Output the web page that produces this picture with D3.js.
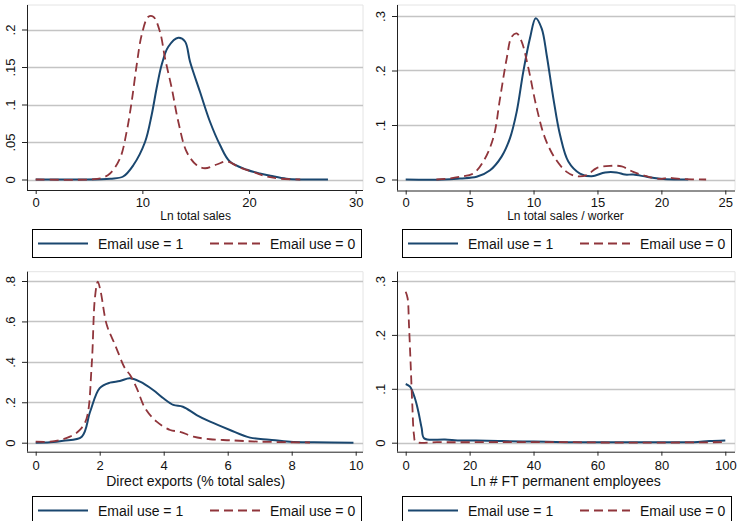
<!DOCTYPE html>
<html>
<head>
<meta charset="utf-8">
<script src="https://cdn.jsdelivr.net/npm/d3@7"></script>
<style>
  body { margin: 0; background: #fff; }
  svg { display: block; font-family: "Liberation Sans", Arial, sans-serif; }
</style>
</head>
<body>
<div id="chart"></div>
<script>
var W = 737, H = 521;

var seriesNames = ["Email use = 1", "Email use = 0"];

// Ln total sales
var salesEmail1 = [[0,0],[4,0],[7,0.001],[8.2,0.004],[9.15,0.019],[10.25,0.05],[10.87,0.086],[11.34,0.122],
  [11.81,0.153],[12.43,0.177],[13.37,0.189],[14.0,0.184],[14.47,0.157],[15.4,0.117],[16.34,0.077],
  [17.28,0.046],[18.2,0.024],[19.8,0.013],[21.0,0.008],[22.0,0.005],[23.5,0.001],[25,0],[27.4,0]];
var salesEmail0 = [[0,0],[5,0],[6.2,0.002],[6.97,0.008],[7.9,0.028],[8.53,0.064],[9.0,0.104],[9.47,0.153],
  [9.94,0.193],[10.56,0.217],[11.03,0.217],[11.65,0.197],[12.12,0.162],[12.75,0.122],[13.37,0.077],
  [14.15,0.037],[15.1,0.019],[15.87,0.015],[16.97,0.02],[17.9,0.024],[19.15,0.016],[20.4,0.01],
  [21.66,0.004],[23,0.001],[24.8,0]];

// Ln total sales / worker
var perWorkerEmail1 = [[0,0],[3,0],[4.25,0.002],[5.55,0.005],[6.6,0.017],[7.5,0.042],[8.16,0.076],[8.68,0.124],
  [9.2,0.198],[9.72,0.259],[10.17,0.296],[10.64,0.277],[11.03,0.228],[11.55,0.149],[12.07,0.082],
  [12.72,0.033],[13.63,0.011],[14.55,0.006],[15.6,0.013],[16.5,0.013],[17.15,0.009],[17.8,0.009],
  [18.85,0.005],[19.76,0.002],[21,0],[22.1,0]];
var perWorkerEmail0 = [[2.4,0],[3.5,0.002],[4.25,0.005],[5.29,0.011],[6.07,0.033],[6.85,0.076],[7.38,0.149],
  [7.9,0.222],[8.29,0.262],[8.68,0.268],[9.07,0.253],[9.6,0.204],[10.25,0.131],[10.9,0.076],
  [11.68,0.039],[12.59,0.014],[13.37,0.006],[14.16,0.008],[14.94,0.021],[15.98,0.025],[16.9,0.024],
  [17.8,0.014],[18.85,0.006],[19.9,0.001],[20.5,0.003],[21.5,0.001],[23.5,0]];

// Direct exports (% total sales)
var exportsEmail1 = [[0,0],[0.45,0.002],[0.86,0.01],[1.44,0.03],[1.7,0.153],[2.0,0.27],[2.32,0.297],
  [2.63,0.305],[2.94,0.319],[3.26,0.302],[3.67,0.261],[3.99,0.22],[4.3,0.187],[4.6,0.178],
  [5.03,0.137],[5.45,0.104],[6.07,0.063],[6.7,0.025],[7.3,0.015],[7.95,0.005],[8.7,0.002],[9.93,0]];
var exportsEmail0 = [[0,0.005],[0.45,0.005],[0.76,0.013],[1.07,0.03],[1.38,0.063],[1.59,0.12],[1.75,0.385],
  [1.85,0.715],[1.94,0.797],[2.03,0.748],[2.22,0.583],[2.48,0.484],[2.79,0.368],[2.95,0.335],
  [3.16,0.269],[3.42,0.17],[3.78,0.104],[4.2,0.063],[4.51,0.054],[4.93,0.03],[5.45,0.017],
  [6.07,0.012],[7.0,0.005],[8.57,0.001]];

// Ln # FT permanent employees
var employeesEmail1 = [[0,0.109],[1.35,0.104],[2.9,0.082],[3.95,0.058],[5.0,0.027],[5.8,0.008],[12.3,0.006],
  [17.5,0.004],[22,0.004],[30,0.003],[40,0.002],[50,0.001],[60,0.001],[75,0.001],[90,0.001],
  [95,0.003],[100,0.004]];
var employeesEmail0 = [[0,0.28],[0.6,0.268],[1.03,0.218],[1.56,0.144],[2.07,0.07],[2.6,0.014],[3.1,0.002],
  [10,0.001],[30,0.001],[50,0.001],[70,0],[100,0.001]];

var panels = [
  { title: "Ln total sales", titleSize: 12, s1: salesEmail1, s0: salesEmail0,
    xDomain: [0,30], xTicks: [0,10,20,30], yDomain: [0,0.2], yTicks: [0,0.05,0.1,0.15,0.2],
    axisX: 27, axisY: 190, top: 5, right: 363, xr: [35.7,355.7], yr: [179.5,29.5],
    tickY: 207, titleY: 220, legY: 229 },
  { title: "Ln total sales / worker", titleSize: 12, s1: perWorkerEmail1, s0: perWorkerEmail0,
    xDomain: [0,25], xTicks: [0,5,10,15,20,25], yDomain: [0,0.3], yTicks: [0,0.1,0.2,0.3],
    axisX: 397, axisY: 190.5, top: 5, right: 735, xr: [405.7,725.3], yr: [179.5,16],
    tickY: 207, titleY: 220, legY: 229 },
  { title: "Direct exports (% total sales)", titleSize: 14, s1: exportsEmail1, s0: exportsEmail0,
    xDomain: [0,10], xTicks: [0,2,4,6,8,10], yDomain: [0,0.8], yTicks: [0,0.2,0.4,0.6,0.8],
    axisX: 27, axisY: 451.7, top: 271.7, right: 363, xr: [35.7,355.7], yr: [442.7,281],
    tickY: 469.5, titleY: 486, legY: 496 },
  { title: "Ln # FT permanent employees", titleSize: 14, s1: employeesEmail1, s0: employeesEmail0,
    xDomain: [0,100], xTicks: [0,20,40,60,80,100], yDomain: [0,0.3], yTicks: [0,0.1,0.2,0.3],
    axisX: 397, axisY: 451.7, top: 271.7, right: 735, xr: [405.7,725.3], yr: [442.7,281],
    tickY: 469.5, titleY: 486, legY: 496 }
];

var blue = "#1a476f", red = "#90353b";
var fmt = function(v) { return v === 0 ? "0" : d3.format("")(v).replace(/^0\./, "."); };

var svg = d3.select("#chart").append("svg")
  .attr("width", W)
  .attr("height", H);

svg.append("rect").attr("width", W).attr("height", H).attr("fill", "#fff");

panels.forEach(function(p) {
  var x = d3.scaleLinear().domain(p.xDomain).range(p.xr);
  var y = d3.scaleLinear().domain(p.yDomain).range(p.yr);
  var g = svg.append("g");

  // plot region border (light)
  g.append("path")
    .attr("d", "M" + p.axisX + "," + p.top + "H" + p.right + "V" + p.axisY)
    .attr("fill", "none")
    .attr("stroke", "#e4e4e4")
    .attr("stroke-width", 1);

  // gridlines
  g.selectAll(".grid")
    .data(p.yTicks)
    .enter()
    .append("line")
    .attr("x1", p.axisX)
    .attr("x2", p.right)
    .attr("y1", function(d) { return Math.round(y(d)) + 0.5; })
    .attr("y2", function(d) { return Math.round(y(d)) + 0.5; })
    .attr("stroke", "#c4c4c4")
    .attr("stroke-width", 1.6);

  // y axis
  var yAxis = d3.axisLeft(y).tickValues(p.yTicks).tickSize(5).tickFormat(fmt);
  var ya = g.append("g")
    .attr("transform", "translate(" + p.axisX + ",0)")
    .call(yAxis);
  ya.select(".domain").attr("d", "M0.5," + p.top + "V" + p.axisY).attr("stroke", "#222");
  ya.selectAll(".tick line").attr("stroke", "#222").attr("x1", 0.5).attr("x2", -5);
  ya.selectAll(".tick text")
    .attr("x", 0).attr("dy", 0)
    .attr("transform", "translate(-12,0) rotate(-90)")
    .attr("text-anchor", "middle")
    .attr("font-size", 13)
    .attr("font-family", "Liberation Sans, Arial, sans-serif")
    .attr("fill", "#111");

  // x axis
  var xAxis = d3.axisBottom(x).tickValues(p.xTicks).tickSize(4).tickFormat(d3.format("d"));
  var xa = g.append("g")
    .attr("transform", "translate(0," + p.axisY + ")")
    .call(xAxis);
  xa.select(".domain").attr("d", "M" + p.axisX + ",0.5H" + p.right).attr("stroke", "#222");
  xa.selectAll(".tick line").attr("stroke", "#222");
  xa.selectAll(".tick text")
    .attr("y", null).attr("dy", null)
    .attr("transform", "translate(0," + (p.tickY - p.axisY) + ")")
    .attr("font-size", 13)
    .attr("font-family", "Liberation Sans, Arial, sans-serif")
    .attr("fill", "#111");

  // axis title
  g.append("text")
    .attr("x", (p.xr[0] + p.xr[1]) / 2)
    .attr("y", p.titleY)
    .attr("text-anchor", "middle")
    .attr("font-size", p.titleSize)
    .attr("fill", "#111")
    .text(p.title);

  // curves
  var line = d3.line()
    .x(function(d) { return x(d[0]); })
    .y(function(d) { return y(d[1]); })
    .curve(d3.curveCatmullRom.alpha(0.5));

  g.append("path")
    .datum(p.s1)
    .attr("d", line)
    .attr("fill", "none")
    .attr("stroke", blue)
    .attr("stroke-width", 2);

  g.append("path")
    .datum(p.s0)
    .attr("d", line)
    .attr("fill", "none")
    .attr("stroke", red)
    .attr("stroke-width", 1.8)
    .attr("stroke-dasharray", "9,5");

  // legend
  var lx = p.axisX + 5, lw = 329, ly = p.legY, lh = 28;
  var legend = g.append("g").attr("class", "legend");
  legend.append("rect")
    .attr("x", lx + 0.5).attr("y", ly + 0.5)
    .attr("width", lw).attr("height", lh)
    .attr("fill", "#fff")
    .attr("stroke", "#000")
    .attr("stroke-width", 1);

  var items = [
    { name: seriesNames[0], color: blue, dash: null, x0: lx + 6 },
    { name: seriesNames[1], color: red, dash: "9,5", x0: lx + 178 }
  ];
  items.forEach(function(it) {
    legend.append("line")
      .attr("x1", it.x0).attr("x2", it.x0 + 50)
      .attr("y1", ly + 14.5).attr("y2", ly + 14.5)
      .attr("stroke", it.color)
      .attr("stroke-width", it.dash ? 1.8 : 2)
      .attr("stroke-dasharray", it.dash);
    legend.append("text")
      .attr("x", it.x0 + 60)
      .attr("y", ly + 19.5)
      .attr("font-size", 14)
      .attr("fill", "#111")
      .text(it.name);
  });
});
</script>
</body>
</html>
